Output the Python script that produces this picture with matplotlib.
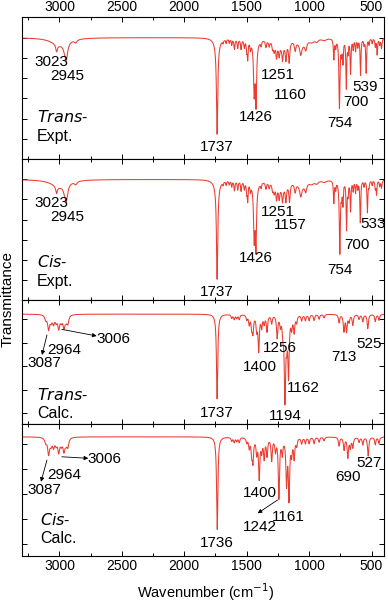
import numpy as np
import matplotlib.pyplot as plt
from matplotlib.ticker import MultipleLocator, NullFormatter

plt.rcParams['font.family'] = ['Liberation Sans Narrow', 'Liberation Sans', 'DejaVu Sans']
plt.rcParams['mathtext.fontset'] = 'custom'
plt.rcParams['mathtext.rm'] = 'Liberation Sans Narrow'
plt.rcParams['mathtext.it'] = 'Liberation Sans Narrow:italic'

# Spectra are described by their bands: position (cm-1), depth below
# the baseline (in tick units of each panel) and half width (cm-1).
wavenumber = np.linspace(3300, 400, 5801)

# Trans- experimental
trans_expt_base = 6.0
trans_expt_pos = [3000, 3023, 2960, 2945, 2870, 1737, 1737, 1690, 1665, 1640, 1620, 1598,
                  1572, 1545, 1519, 1500, 1492, 1470, 1440, 1425, 1430, 1385, 1346, 1320,
                  1293, 1280, 1261, 1240, 1213, 1186, 1160, 1220, 1112, 1067, 1027, 1060,
                  980, 940, 880, 802, 787, 757, 740, 729, 702, 688, 668, 647, 628, 610,
                  588, 560, 543, 520, 495, 470, 455, 435, 420]
trans_expt_depth = [0.35, 0.35, 0.2, 0.8, 0.15, 4.4, 0.35, 0.15, 0.2, 0.2, 0.3, 0.5,
                    0.45, 0.5, 0.4, 0.5, 0.9, 0.4, 2.3, 2.7, 0.5, 0.25, 0.35, 0.3,
                    0.35, 0.45, 0.7, 0.55, 0.7, 0.8, 1.0, 0.35, 0.45, 0.5, 0.4, 0.3,
                    0.15, 0.15, 0.1, 1.0, 0.4, 3.4, 0.6, 1.1, 2.4, 0.6, 1.7, 0.5, 0.6, 0.4,
                    1.8, 0.3, 1.7, 0.3, 0.25, 0.4, 0.8, 0.3, 0.5]
trans_expt_hw = [80, 8, 12, 13, 12, 6, 25, 4, 4, 4, 4, 5,
                 5, 5, 5, 4, 4, 5, 6, 5, 20, 5, 6, 6,
                 6, 7, 6, 6, 6, 6, 6, 50, 7, 9, 9, 40,
                 20, 15, 20, 4, 4, 5, 4, 4, 4, 4, 4, 4, 4, 4,
                 4, 4, 4, 4, 4, 4, 4, 4, 5]

# Cis- experimental
cis_expt_base = 6.0
cis_expt_pos = [3000, 3023, 2960, 2945, 2870, 1737, 1737, 1690, 1665, 1640, 1620, 1598,
                1572, 1545, 1519, 1500, 1492, 1470, 1440, 1426, 1430, 1385, 1346, 1320,
                1293, 1280, 1261, 1240, 1213, 1186, 1157, 1220, 1112, 1067, 1027, 1060,
                980, 940, 880, 802, 787, 754, 740, 729, 700, 688, 668, 647, 628, 610,
                590, 560, 533, 520, 495, 470, 460, 435, 420]
cis_expt_depth = [0.35, 0.35, 0.2, 0.78, 0.15, 4.6, 0.35, 0.15, 0.2, 0.2, 0.3, 0.5,
                  0.45, 0.5, 0.4, 0.5, 0.9, 0.4, 2.5, 2.8, 0.5, 0.25, 0.35, 0.3,
                  0.35, 0.45, 0.7, 0.6, 0.7, 0.8, 0.9, 0.35, 0.45, 0.5, 0.4, 0.3,
                  0.15, 0.15, 0.1, 1.1, 0.4, 3.6, 0.6, 1.1, 2.4, 0.6, 1.5, 0.5, 0.6, 0.4,
                  2.1, 0.3, 1.6, 0.3, 0.25, 0.4, 0.7, 0.3, 0.4]
cis_expt_hw = trans_expt_hw

# Trans- calculated
trans_calc_base = 4.22
trans_calc_pos = [3110, 3087, 3068, 3048, 3027, 3006, 2985, 2964, 2948, 2933, 1737,
                  1620, 1600, 1580, 1560, 1500, 1480, 1460, 1450, 1420, 1404, 1380,
                  1360, 1337, 1300, 1256, 1230, 1210, 1194, 1180, 1165, 1140, 1120,
                  1100, 1060, 1030, 1000, 960, 920, 880, 760, 721, 700, 680, 650,
                  600, 570, 530, 470, 440]
trans_calc_depth = [0.2, 0.6, 0.25, 0.35, 0.25, 0.55, 0.25, 0.5, 0.2, 0.35, 3.6,
                    0.15, 0.2, 0.15, 0.2, 0.2, 0.4, 0.5, 0.7, 0.6, 1.5, 0.5,
                    0.35, 0.7, 0.35, 0.95, 0.4, 0.7, 3.5, 0.9, 2.5, 0.5, 0.7,
                    0.3, 0.25, 0.25, 0.25, 0.25, 0.2, 0.15, 0.35, 0.7, 0.7, 0.3, 0.45,
                    0.2, 0.3, 0.6, 0.3, 0.25]
trans_calc_hw = [9] * 10 + [6] * (len(trans_calc_pos) - 10)

# Cis- calculated
cis_calc_base = 4.3
cis_calc_pos = [3110, 3087, 3068, 3048, 3027, 3006, 2985, 2964, 2948, 2933, 1736,
                1620, 1600, 1580, 1560, 1500, 1480, 1460, 1450, 1420, 1400, 1380,
                1360, 1337, 1300, 1270, 1242, 1215, 1181, 1161, 1140, 1120,
                1100, 1060, 1030, 1000, 960, 920, 880, 760, 720, 690, 670, 650,
                600, 570, 527, 470, 440]
cis_calc_depth = [0.2, 0.65, 0.25, 0.35, 0.25, 0.55, 0.25, 0.5, 0.2, 0.35, 3.7,
                  0.15, 0.2, 0.15, 0.2, 0.2, 0.4, 0.6, 0.9, 0.6, 1.6, 0.5,
                  0.8, 0.7, 0.9, 0.5, 2.4, 0.6, 1.8, 2.4, 0.6, 0.8,
                  0.3, 0.25, 0.25, 0.25, 0.25, 0.2, 0.15, 0.35, 0.5, 0.8, 0.4, 0.4,
                  0.2, 0.3, 0.75, 0.3, 0.25]
cis_calc_hw = [9] * 10 + [6] * (len(cis_calc_pos) - 10)

spectra = [
    (trans_expt_base, trans_expt_pos, trans_expt_depth, trans_expt_hw),
    (cis_expt_base, cis_expt_pos, cis_expt_depth, cis_expt_hw),
    (trans_calc_base, trans_calc_pos, trans_calc_depth, trans_calc_hw),
    (cis_calc_base, cis_calc_pos, cis_calc_depth, cis_calc_hw),
]

# Peak labels: (text, wavenumber, y) per panel
peak_labels = [
    [('3023', 3061, 4.81), ('2945', 2941, 4.10), ('1737', 1736, 0.62), ('1426', 1425, 2.10),
     ('1251', 1253, 4.15), ('1160', 1154, 3.17), ('754', 753, 1.77), ('700', 628, 2.84),
     ('539', 548, 3.58)],
    [('3023', 3061, 4.84), ('2945', 2941, 4.14), ('1737', 1736, 0.41), ('1426', 1425, 2.07),
     ('1251', 1253, 4.39), ('1157', 1154, 3.73), ('754', 753, 1.49), ('700', 615, 2.74),
     ('533', 487, 3.78)],
    [('3006', 2569, 3.15), ('2964', 2960, 2.69), ('3087', 3122, 2.13), ('1737', 1736, 0.0),
     ('1400', 1391, 1.98), ('1256', 1231, 2.77), ('1162', 1048, 1.06), ('1194', 1192, -0.11),
     ('713', 721, 2.38), ('525', 521, 2.95)],
    [('3006', 2643, 3.40), ('2964', 2960, 2.77), ('3087', 3122, 2.17), ('1736', 1736, 0.04),
     ('1400', 1391, 2.04), ('1242', 1391, 0.68), ('1161', 1165, 1.10), ('690', 689, 2.70),
     ('527', 521, 3.24)],
]

# arrows: (tail x, tail y, head x, head y) per panel
arrows = [
    [],
    [],
    [(2981, 3.57, 2702, 3.29), (3100, 3.33, 3140, 2.48)],
    [(2981, 3.50, 2769, 3.44), (3100, 3.37, 3148, 2.50), (1253, 1.77, 1412, 1.24)],
]

names = [
    (r'$\it{Trans}$-', 'Expt.', 3180, 2.07, 1.11),
    (r'$\it{Cis}$-', 'Expt.', 3180, 1.91, 0.91),
    (r'$\it{Trans}$-', 'Calc.', 3180, 0.78, 0.0),
    (r'$\it{Cis}$-', 'Calc.', 3154, 0.97, 0.24),
]

ylims = [(0, 7), (0, 7), (-0.47, 4.82), (-0.47, 4.8)]

# axes boxes in figure fraction: left, bottom, width, height
boxes = [
    [0.0567, 0.7363, 0.933, 0.2351],
    [0.0567, 0.5033, 0.933, 0.2330],
    [0.0567, 0.2975, 0.933, 0.2058],
    [0.0567, 0.0795, 0.933, 0.2180],
]

red = '#ec3b30'

fig = plt.figure(figsize=(3.88, 6.04), dpi=100)

for i in range(4):
    ax = fig.add_axes(boxes[i])
    base, pos, depth, hw = spectra[i]
    y = np.full_like(wavenumber, base)
    for p, d, w in zip(pos, depth, hw):
        y -= d * w ** 2 / ((wavenumber - p) ** 2 + w ** 2)
    ax.plot(wavenumber, y, color=red, lw=0.75)

    ax.set_xlim(3300, 400)
    ax.set_ylim(*ylims[i])
    ax.xaxis.set_major_locator(MultipleLocator(500))
    ax.xaxis.set_minor_locator(MultipleLocator(250))
    ax.yaxis.set_major_locator(MultipleLocator(1))
    ax.tick_params(which='both', direction='in', top=True, right=True,
                   labelsize=10, width=0.7, pad=2)
    ax.tick_params(which='major', length=3.5)
    ax.tick_params(which='minor', length=2)
    ax.yaxis.set_major_formatter(NullFormatter())
    if i == 0:
        ax.tick_params(labeltop=True, labelbottom=False)
    elif i < 3:
        ax.tick_params(labelbottom=False)
    for s in ax.spines.values():
        s.set_linewidth(0.8)

    for txt, lx, ly in peak_labels[i]:
        ax.text(lx, ly, txt, ha='center', va='center', fontsize=11)
    for tx, ty, hx, hy in arrows[i]:
        ax.annotate('', xy=(hx, hy), xytext=(tx, ty),
                    arrowprops=dict(arrowstyle='-|>', color='black', lw=0.6,
                                    mutation_scale=6, shrinkA=0, shrinkB=0))
    n1, n2, nx, ny1, ny2 = names[i]
    ax.text(nx, ny1, n1, ha='left', va='center', fontsize=11.5)
    ax.text(nx, ny2, n2, ha='left', va='center', fontsize=11.5)

fig.text(0.53, 0.019, r'Wavenumber (cm$^{\mathrm{-1}}$)', ha='center', va='center', fontsize=10.5)
fig.text(0.02, 0.505, 'Transmittance', rotation=90, ha='center', va='center', fontsize=11)

fig.savefig('out.png', dpi=100)
